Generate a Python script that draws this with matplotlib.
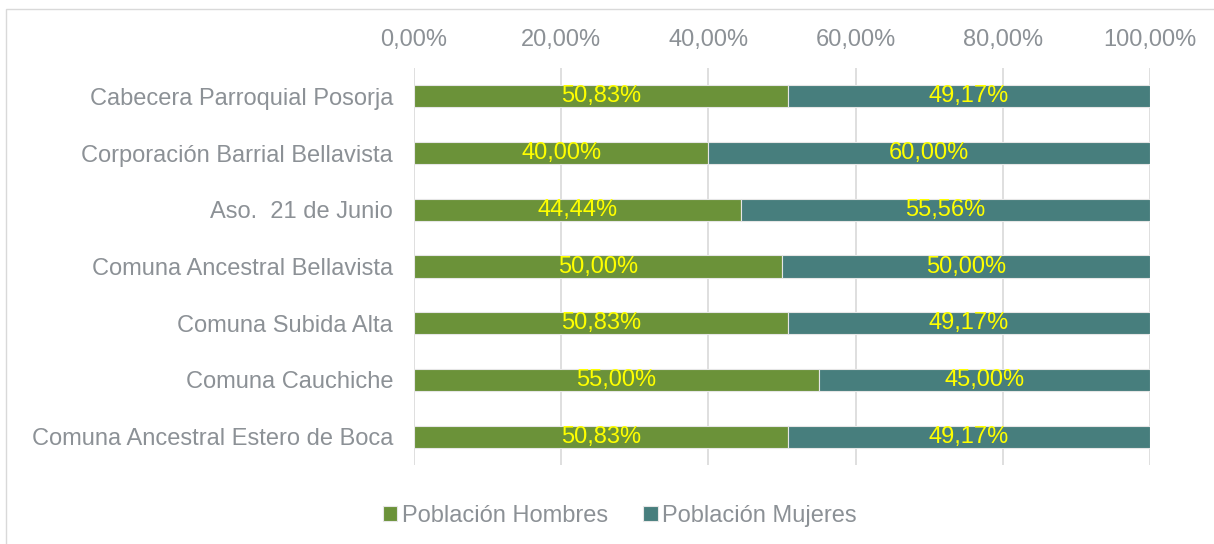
import matplotlib.pyplot as plt
from matplotlib.patches import Rectangle

plt.rcParams['font.family'] = ['Liberation Sans', 'DejaVu Sans']

categorias = ['Cabecera Parroquial Posorja', 'Corporación Barrial Bellavista',
              'Aso.  21 de Junio', 'Comuna Ancestral Bellavista',
              'Comuna Subida Alta', 'Comuna Cauchiche',
              'Comuna Ancestral Estero de Boca']
hombres = [50.83, 40.00, 44.44, 50.00, 50.83, 55.00, 50.83]
mujeres = [49.17, 60.00, 55.56, 50.00, 49.17, 45.00, 49.17]
ticks = [0, 20, 40, 60, 80, 100]

verde = '#6B9239'
azul = '#477E7D'
gris = '#8C9196'
fs = 17

fig = plt.figure(figsize=(12.14, 5.44), dpi=100)
ax = fig.add_axes([414 / 1214, 1 - 465 / 544, 736 / 1214, 397 / 544])

# marco del gráfico
fig.patches.append(Rectangle((6 / 1214, -0.05), 1.2, 1 - 9 / 544 + 0.05,
                             transform=fig.transFigure, fill=False,
                             edgecolor='#D9D9D9', linewidth=1))

y = list(range(len(categorias)))
b1 = ax.barh(y, hombres, height=0.39, color=verde, edgecolor='#E6E6E6',
             linewidth=0.8, label='Población Hombres', zorder=3)
b2 = ax.barh(y, mujeres, left=hombres, height=0.39, color=azul,
             edgecolor='#E6E6E6', linewidth=0.8, label='Población Mujeres', zorder=3)

for i in y:
    ax.text(hombres[i] / 2, i, f'{hombres[i]:.2f}%'.replace('.', ','),
            ha='center', va='center', color='#FFFF00', fontsize=fs, zorder=4)
    ax.text(hombres[i] + mujeres[i] / 2, i, f'{mujeres[i]:.2f}%'.replace('.', ','),
            ha='center', va='center', color='#FFFF00', fontsize=fs, zorder=4)

ax.set_xlim(0, 100)
ax.set_ylim(len(categorias) - 0.5, -0.5)
ax.set_yticks(y)
ax.set_yticklabels(categorias)
ax.set_xticks(ticks)
ax.set_xticklabels([f'{t:.2f}%'.replace('.', ',') for t in ticks])
ax.xaxis.tick_top()
ax.tick_params(axis='both', length=0, labelsize=fs, labelcolor=gris)
ax.tick_params(axis='x', pad=12)
ax.tick_params(axis='y', pad=15)
ax.grid(axis='x', color='#D9D9D9', linewidth=1.2, zorder=0)
for s in ax.spines.values():
    s.set_visible(False)

fig.legend(handles=[b1, b2], loc='center', bbox_to_anchor=(620 / 1214, 1 - 516 / 544),
           ncol=2, frameon=False, fontsize=fs, labelcolor=gris,
           handlelength=0.6, handleheight=0.6, handletextpad=0.2, columnspacing=1.5)

fig.savefig('out.png', dpi=100)
